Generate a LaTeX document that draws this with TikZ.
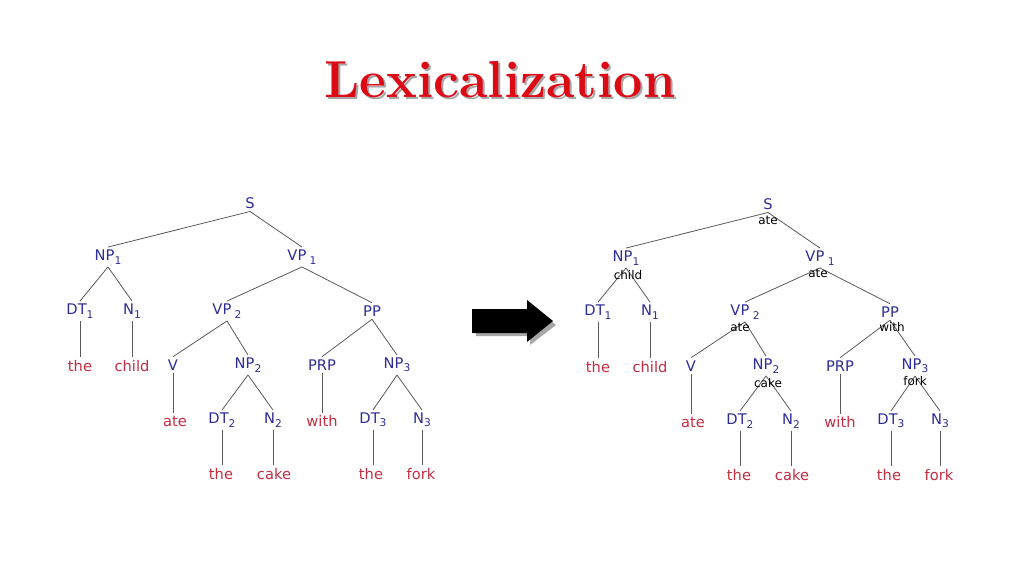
\documentclass[tikz,border=0pt]{standalone}
\usepackage{fontspec}
\setsansfont{DejaVu Sans}
\definecolor{catblue}{RGB}{45,45,150}
\definecolor{wordred}{RGB}{195,45,65}
\definecolor{titlered}{RGB}{220,10,20}
\newcommand{\sub}[1]{\raisebox{-2.5pt}{\footnotesize #1}}
\tikzset{
  cat/.style={text=catblue, font=\sffamily\fontsize{11}{12}\selectfont, inner sep=2pt},
  word/.style={text=wordred, font=\sffamily\fontsize{11}{12}\selectfont, inner sep=2pt},
  head/.style={text=black, font=\sffamily\fontsize{9}{10}\selectfont, inner sep=0pt},
  branch/.style={draw=black!65, line width=0.6pt},
  titlefont/.style={font=\rmfamily\bfseries\fontsize{39}{44}\selectfont}
}
\newcommand{\drawtree}{%
  % categories
  \node[cat] (S) at (250,203) {S};
  \node[cat] (NP1) at (108,257) {NP\sub{1}};
  \node[cat] (VP1) at (302,257) {VP\sub{ 1}};
  \node[cat] (DT1) at (80,311) {DT\sub{1}};
  \node[cat] (N1) at (132,311) {N\sub{1}};
  \node[cat] (VP2) at (227,311) {VP\sub{ 2}};
  \node[cat] (PP) at (372,311) {PP};
  \node[cat] (V) at (173,365) {V};
  \node[cat] (NP2) at (248,365) {NP\sub{2}};
  \node[cat] (PRP) at (322,365) {PRP};
  \node[cat] (NP3) at (397,365) {NP\sub{3}};
  \node[cat] (DT2) at (222,420) {DT\sub{2}};
  \node[cat] (N2) at (273,420) {N\sub{2}};
  \node[cat] (DT3) at (373,420) {DT\sub{3}};
  \node[cat] (N3) at (422,420) {N\sub{3}};
  % words
  \node[word] (the1) at (80,366) {the};
  \node[word] (child) at (132,366) {child};
  \node[word] (ate) at (175,421) {ate};
  \node[word] (with) at (322,421) {with};
  \node[word] (the2) at (221,474) {the};
  \node[word] (cake) at (274,474) {cake};
  \node[word] (the3) at (371,474) {the};
  \node[word] (fork) at (421,474) {fork};
  % branches
  \foreach \p/\c in {S/NP1,S/VP1,NP1/DT1,NP1/N1,VP1/VP2,VP1/PP,
      VP2/V,VP2/NP2,NP2/DT2,NP2/N2,PP/PRP,PP/NP3,NP3/DT3,NP3/N3}
    \draw[branch] (\p.south) -- (\c.north);
  \foreach \p/\c in {DT1/the1,N1/child,V/ate,DT2/the2,N2/cake,PRP/with,DT3/the3,N3/fork}
    \draw[branch] (\p.south) -- (\p.south |- \c.north);
}
\begin{document}
\begin{tikzpicture}[x=0.75pt,y=-0.75pt]
  \useasboundingbox (0,0) rectangle (1024,576);
  \node[titlefont, text=black!35] at (502,82) {Lexicalization};
  \node[titlefont, text=titlered] (title) at (500,80) {Lexicalization};
  % left tree
  \begin{scope}[name prefix=L-]
    \drawtree
  \end{scope}
  % right tree
  \begin{scope}[shift={(518,1)}, name prefix=R-]
    \drawtree
  \end{scope}
  % heads
  \node[head] (hS) at (768,220) {ate};
  \node[head] (hNP1) at (628,275) {child};
  \node[head] (hVP1) at (818,273) {ate};
  \node[head] (hVP2) at (740,327) {ate};
  \node[head] (hPP) at (892,327) {with};
  \node[head] (hNP2) at (768,383) {cake};
  \node[head] (hNP3) at (915,381) {fork};
  % arrow
  \fill[black!35] (476,312) -- (530,312) -- (530,304) -- (556,325) -- (530,345) -- (530,336) -- (476,336) -- cycle;
  \fill[black] (472,309) -- (527,309) -- (527,300) -- (553,321) -- (527,342) -- (527,333) -- (472,333) -- cycle;
\end{tikzpicture}
\end{document}
